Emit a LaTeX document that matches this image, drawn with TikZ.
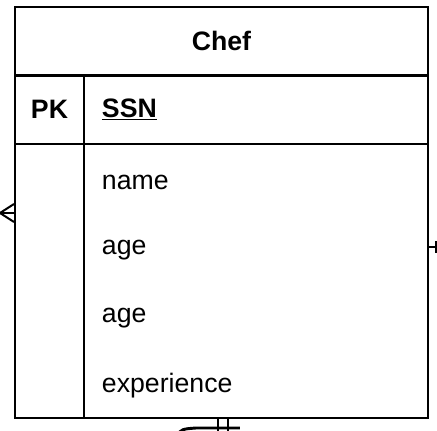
\documentclass[tikz,border=0pt]{standalone}
\usepackage{fontspec}
\setmainfont{Liberation Sans}
\usetikzlibrary{positioning}

\begin{document}
\begin{tikzpicture}[x=0.75pt,y=-0.75pt,line width=1.5pt,
  font=\fontsize{20}{24}\selectfont]
  \tikzstyle{cell}=[draw,inner sep=0pt,minimum height=51.75pt]
  \tikzstyle{attr}=[anchor=west,inner sep=0pt]
  \tikzstyle{rel}=[line width=1.5pt]

  \useasboundingbox (0,0) rectangle (437,430);

  % table
  \node[cell,minimum width=309.75pt,font=\fontsize{20}{24}\selectfont\bfseries]
    (chef) at (221.5,41) {Chef};
  \node[cell,minimum width=51.75pt,font=\fontsize{20}{24}\selectfont\bfseries]
    (pk) at (49.5,109.5) {PK};
  \node[cell,minimum width=258pt] (key) at (256,109.5) {};
  \node[cell,minimum width=51.75pt,minimum height=205.5pt] (keys) at (49.5,281) {};
  \node[cell,minimum width=258pt,minimum height=205.5pt] (attrs) at (256,281) {};

  \node[attr,font=\fontsize{20}{24}\selectfont\bfseries] (ssn) at (101,109.5)
    {\underline{SSN}};
  \node[attr] (name) at (101,182) {name};
  \node[attr] (age) at (101,250) {age};
  \node[attr] (age2) at (101,318) {age};
  \node[attr] (exp) at (101,386) {experience};

  % relations
  \coordinate (lf) at (0,213);
  \path (keys.west |- lf) coordinate (lfe);
  \draw[rel] (lf) -- (lfe);
  \draw[rel] ([yshift=6.75pt]lfe) -- (lf) -- ([yshift=-6.75pt]lfe);

  \coordinate (rt) at (437,247);
  \draw[rel] (attrs.east |- rt) -- (rt);
  \draw[rel] ([xshift=-0.75pt,yshift=4.2pt]rt) -- ([xshift=-0.75pt,yshift=-4.2pt]rt);

  \coordinate (bl) at (176,436);
  \coordinate (br) at (240,428);
  \draw[line width=2.2pt] (bl) .. controls (182,429) .. (196,428) -- (br);
  \draw[rel] (attrs.south -| 218,0) -- ++(0,14);
  \draw[rel] (attrs.south -| 228,0) -- ++(0,14);
\end{tikzpicture}
\end{document}
